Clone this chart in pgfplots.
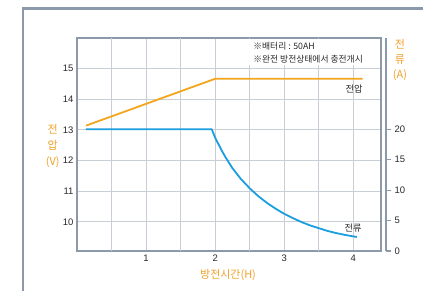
\documentclass[border=0pt]{standalone}
\usepackage{fontspec}
\setmainfont{Liberation Sans}
\newfontfamily\kr{Noto Sans CJK KR}
\usepackage{pgfplots}
\pgfplotsset{compat=1.18}
\definecolor{vorange}{RGB}{243,166,29}
\definecolor{lorange}{RGB}{240,160,40}
\definecolor{cblue}{RGB}{27,158,222}
\definecolor{framegray}{RGB}{140,153,170}
\definecolor{gridgray}{RGB}{200,206,214}
\definecolor{txt}{RGB}{40,40,40}
\begin{document}
\begin{tikzpicture}
\useasboundingbox (0,0) rectangle (423bp,291bp);
\draw[framegray, line width=2.6bp] (23bp,-10bp) -- (23bp,282.3bp) -- (440bp,282.3bp);
% main axis: voltage
\begin{axis}[at={(77bp,40bp)}, anchor=south west, scale only axis,
  width=304bp, height=213bp,
  xmin=0, xmax=4.4, ymin=9.05, ymax=16,
  xtick={1,2,3,4}, ytick={10,11,12,13,14,15},
  extra x ticks={0.5,1.5,2.5,3.5}, extra x tick labels={},
  extra x tick style={grid=major},
  grid=major, major grid style={gridgray, line width=0.9bp},
  axis line style={framegray, line width=1.8bp},
  major tick length=0pt,
  tick label style={font=\fontsize{9.5}{11}\selectfont, text=txt},
  /pgf/number format/assume math mode=true,
  xlabel={방전시간(H)},
  xlabel style={at={(axis description cs:0.497,-0.113)}, anchor=center, font=\fontsize{11}{14}\selectfont\kr, text=lorange},
  ylabel={전\\압\\(V)},
  ylabel style={at={(axis description cs:-0.08,0.493)}, anchor=center, rotate=-90, align=center, font=\fontsize{11}{16}\selectfont\kr, text=lorange},
]
\addplot[vorange, line width=1.8bp, line join=round] coordinates {(0.13,13.14) (2.0,14.67) (4.135,14.67)};
\fill[white] (axis cs:2.43,15.96) rectangle (axis cs:4.37,15.12);
\node[anchor=west, inner sep=0, font=\fontsize{8.8}{10}\selectfont\kr, text=txt] at (axis cs:2.55,15.72) {※배터리 : 50AH};
\node[anchor=west, inner sep=0, font=\fontsize{8.8}{10}\selectfont\kr, text=txt] at (axis cs:2.55,15.30) {※완전 방전상태에서 충전개시};
\node[anchor=east, inner sep=0, font=\fontsize{9.2}{10}\selectfont\kr, text=txt] at (axis cs:4.135,14.34) {전압};
\node[anchor=center, inner sep=0, font=\fontsize{9.2}{10}\selectfont\kr, text=txt] at (axis cs:3.995,9.80) {전류};
\end{axis}
% current on same box
\begin{axis}[at={(77bp,40bp)}, anchor=south west, scale only axis,
  width=304bp, height=213bp,
  xmin=0, xmax=4.4, ymin=0, ymax=35,
  hide axis]
\addplot[cblue, line width=1.8bp, line join=round] coordinates {
(0.13,20) (1.95,20) (2.0,18.6) (2.05,17.5) (2.10,16.4) (2.15,15.4) (2.25,13.6) (2.375,11.8)
(2.5,10.3) (2.625,9.0) (2.75,7.9) (2.875,6.95) (3.0,6.1) (3.125,5.4) (3.25,4.75)
(3.375,4.2) (3.5,3.75) (3.625,3.3) (3.75,2.95) (3.875,2.65) (4.0,2.4) (4.05,2.3)};
\end{axis}
% right spine
\begin{axis}[at={(82bp,40bp)}, anchor=south west, scale only axis,
  width=304bp, height=213bp,
  xmin=0, xmax=4.4, ymin=0, ymax=35,
  axis x line=none, axis y line=right,
  axis line style={-, framegray, line width=1.1bp},
  ytick={0,5,10,15,20},
  tick align=outside, major tick length=5bp,
  y tick style={framegray, line width=1.1bp},
  tick label style={font=\fontsize{9.5}{11}\selectfont, text=txt},
  /pgf/number format/assume math mode=true,
  ylabel={전\\류\\(A)},
  ylabel style={at={(axis description cs:1.046,0.897)}, anchor=center, rotate=-90, align=center, font=\fontsize{11}{15}\selectfont\kr, text=lorange},
]
\addplot[draw=none] coordinates {(0,0)};
\end{axis}
\end{tikzpicture}
\end{document}
